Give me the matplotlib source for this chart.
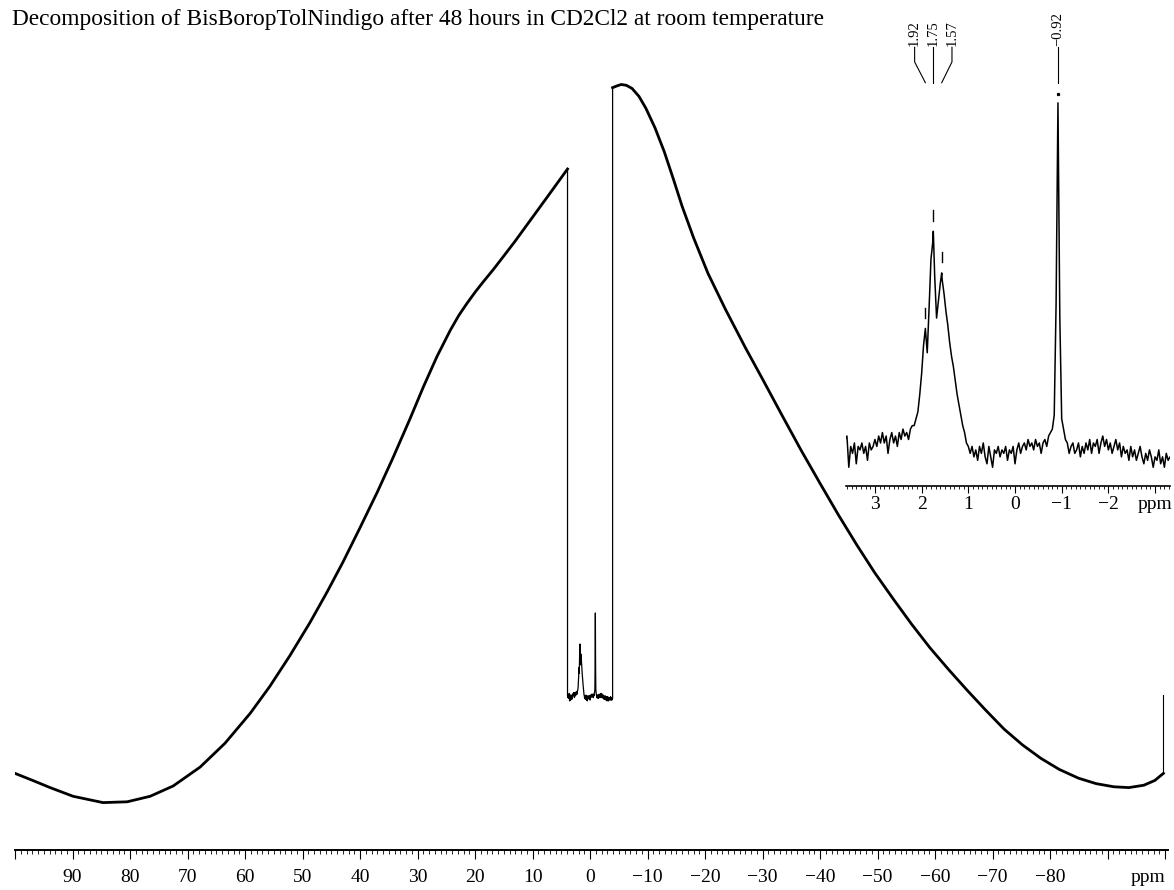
import matplotlib
matplotlib.use("Agg")
import matplotlib.pyplot as plt
import numpy as np
from matplotlib.ticker import FixedLocator, MultipleLocator, FuncFormatter

plt.rcParams["font.family"] = ["Liberation Serif", "DejaVu Serif"]

title = "Decomposition of BisBoropTolNindigo after 48 hours in CD2Cl2 at room temperature"

# broad glass background, low-field side (ppm, intensity)
left_ppm = [100.0, 96.9, 93.9, 89.9, 84.7, 80.5, 76.5, 72.5, 67.8, 63.5, 59.1,
            55.7, 52.2, 48.7, 45.7, 43.0, 40.0, 37.0, 34.3, 31.3, 29.0, 26.6,
            24.3, 22.8, 21.4, 19.9, 18.6, 16.8, 15.1, 13.0, 11.0, 7.5, 3.92]
left_int = [9.7, 8.8, 7.9, 6.8, 6.0, 6.1, 6.8, 8.1, 10.5, 13.5, 17.3,
            20.7, 24.6, 28.8, 32.7, 36.4, 40.8, 45.3, 49.6, 54.6, 58.6, 62.5,
            65.8, 67.7, 69.2, 70.7, 71.9, 73.5, 75.1, 77.1, 79.1, 82.6, 86.2]

# broad glass background, high-field side
right_ppm = [-3.92, -4.6, -5.4, -6.3, -7.3, -8.5, -9.7, -11.3, -12.9, -14.5,
             -16.0, -18.0, -20.5, -23.5, -27.0, -30.0, -33.4, -36.7, -40.0,
             -43.2, -46.4, -49.5, -52.7, -55.9, -59.1, -62.4, -65.6, -68.8,
             -72.0, -75.2, -78.4, -81.6, -84.9, -88.0, -91.1, -93.7, -96.3,
             -98.2, -99.7]
right_int = [96.5, 96.7, 96.9, 96.8, 96.4, 95.4, 93.9, 91.4, 88.4, 84.9,
             81.5, 77.5, 73.0, 68.5, 63.6, 59.6, 55.0, 50.6, 46.4,
             42.4, 38.6, 35.1, 31.8, 28.6, 25.6, 22.8, 20.2, 17.7,
             15.3, 13.3, 11.6, 10.2, 9.1, 8.4, 8.0, 7.9, 8.2,
             8.8, 9.7]
edge_spike = [9.7, 19.6]

# baseline-corrected window, 3.92 .. -3.92 ppm in 0.04 ppm steps
exp_ppm = np.linspace(3.92, -3.92, 197)
exp_int = [
    0.02, -0.01, 0.03, 0.00, 0.02, -0.02, 0.01, 0.03, 0.04, -0.05,
    0.01, -0.01, 0.02, -0.04, 0.01, 0.00, 0.02, -0.01, 0.01, -0.03,
    0.02, 0.00, 0.01, 0.03, 0.01, 0.04, 0.02, 0.05, 0.02, 0.04,
    -0.01, 0.03, 0.05, 0.02, 0.04, 0.01, 0.05, 0.03, 0.06, 0.04,
    0.05, 0.03, 0.06, 0.07, 0.07, 0.09, 0.11, 0.16, 0.22, 0.30,
    0.35, 0.28, 0.41, 0.55, 0.60, 0.50, 0.38, 0.43, 0.48, 0.49,
    0.45, 0.40, 0.36, 0.31, 0.27, 0.24, 0.20, 0.16, 0.13, 0.10,
    0.07, 0.05, 0.02, 0.01, -0.01, 0.01, -0.02, 0.00, -0.03, 0.01,
    -0.01, 0.02, -0.02, -0.04, 0.01, -0.02, -0.05, 0.00, -0.01, 0.01,
    -0.02, 0.00, -0.01, 0.01, -0.03, 0.00, -0.01, 0.01, -0.04, 0.00,
    0.02, -0.01, 0.01, 0.02, 0.00, 0.03, 0.01, 0.02, 0.00, 0.03,
    0.01, 0.02, -0.01, 0.02, 0.03, 0.01, 0.04, 0.05, 0.06, 0.10,
    0.42, 1.00, 0.38, 0.09, 0.06, 0.03, 0.02, -0.01, 0.01, 0.02,
    -0.01, 0.00, 0.02, -0.02, 0.01, -0.01, 0.02, 0.00, 0.03, -0.01,
    0.02, 0.01, 0.03, -0.01, 0.02, 0.04, 0.01, 0.03, 0.00, 0.02,
    -0.01, 0.01, 0.03, 0.00, 0.02, -0.02, 0.01, -0.01, 0.00, -0.03,
    0.01, -0.02, 0.00, -0.03, -0.01, 0.01, -0.02, -0.04, -0.01, -0.03,
    0.00, -0.02, -0.05, -0.02, -0.03, 0.00, -0.04, -0.02, -0.05, -0.01,
    -0.03, -0.02, -0.03, -0.01, -0.04, -0.02, -0.03, 0.00, -0.02, -0.04,
    -0.01, -0.03, -0.02, -0.04, -0.01, -0.03, -0.02,
]

# picked peaks
peak_ppm = np.array([1.92, 1.75, 1.57, -0.92])
peak_top = np.array([0.35, 0.63, 0.51, 1.00])
peak_labels = ["1.92", "1.75", "1.57", "\u22120.92"]
label_ppm = [2.15, 1.75, 1.35, -0.92]

# window level/scale inside the full trace
mid_base = 19.4
mid_scale = 10.6

# merge the picked peak maxima into the sampled window
dup = np.isclose(exp_ppm[:, None], peak_ppm[None, :]).any(axis=1)
win_x = np.concatenate([exp_ppm[~dup], peak_ppm])
win_y = np.concatenate([np.asarray(exp_int)[~dup], peak_top])
order = np.argsort(-win_x)
win_x, win_y = win_x[order], win_y[order]

W, H = 1174, 890


def box(l, t, r, b):
    return [l / W, 1 - b / H, (r - l) / W, (b - t) / H]


def minus(v):
    return f"{v:g}".replace("-", "\u2212")


fig = plt.figure(figsize=(W / 100, H / 100), dpi=100)
fig.text(12 / W, 1 - 25 / H, title, fontsize=16.8, va="baseline", ha="left")

# full spectrum
ax = fig.add_axes(box(15, 60, 1168, 850))
ax.plot(left_ppm, left_int, color="black", lw=2.0, solid_joinstyle="round")
ax.plot(right_ppm, right_int, color="black", lw=2.0, solid_joinstyle="round")
mid_x = np.concatenate([[win_x[0]], win_x, [win_x[-1]]])
mid_y = np.concatenate([[left_int[-1]], mid_base + mid_scale * win_y, [right_int[0]]])
ax.plot(mid_x, mid_y, color="black", lw=0.9)
ax.plot([right_ppm[-1]] * 2, edge_spike, color="black", lw=0.8)

ax.set_xlim(100, -100.5)
ax.set_ylim(0, 100)
for s in ("left", "right", "top"):
    ax.spines[s].set_visible(False)
ax.spines["bottom"].set_linewidth(1.4)
ax.set_yticks([])
ax.xaxis.set_major_locator(FixedLocator(np.arange(100, -101, -10)))
ax.xaxis.set_minor_locator(MultipleLocator(1))
ax.xaxis.set_major_formatter(
    FuncFormatter(lambda v, p: "" if v in (100, -90, -100) else minus(v)))
ax.tick_params(axis="x", which="major", direction="out", length=6.5, width=0.8,
               labelsize=14, pad=7)
ax.tick_params(axis="x", which="minor", direction="out", length=3, width=0.6)
fig.text(1148 / W, 1 - 878 / H, "ppm", fontsize=14, ha="center", va="center")

# expansion of the window
ins = fig.add_axes(box(846, 90, 1170, 486))
ins.patch.set_alpha(0)
ins.plot(win_x, win_y, color="black", lw=1.1)
ins.set_xlim(3.62, -3.32)
ins.set_ylim(-0.104, 1.037)
for s in ("left", "right", "top"):
    ins.spines[s].set_visible(False)
ins.spines["bottom"].set_linewidth(1.2)
ins.set_yticks([])
ins.set_xticks([3, 2, 1, 0, -1, -2, -3])
ins.set_xticklabels(["3", "2", "1", "0", "\u22121", "\u22122", "ppm"])
ins.xaxis.set_minor_locator(MultipleLocator(0.1))
ins.tick_params(axis="x", which="major", direction="out", length=5, width=0.8,
                labelsize=14, pad=2)
ins.tick_params(axis="x", which="minor", direction="out", length=2.2, width=0.6)

# peak picking marks and labels
for p, t, lp, lab in zip(peak_ppm, peak_top, label_ppm, peak_labels):
    if t >= 1.0:
        ins.plot([p], [t + 0.026], marker="s", ms=1.3, color="black",
                 clip_on=False)
    else:
        ins.plot([p, p], [t + 0.03, t + 0.06], color="black", lw=1.0,
                 clip_on=False)
    ins.plot([lp, lp, p], [1.16, 1.118, 1.058], color="black", lw=0.8,
             clip_on=False)
    ins.text(lp, 1.165, lab, rotation=90, fontsize=10.5, ha="center",
             va="bottom", clip_on=False)

fig.savefig("out.png", dpi=100)
